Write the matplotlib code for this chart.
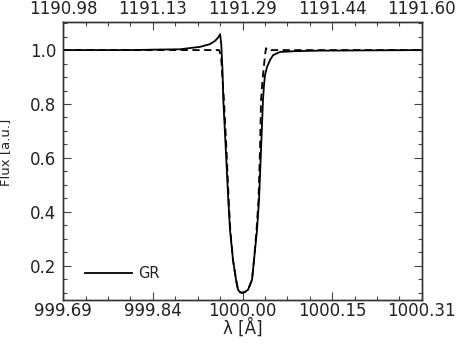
import matplotlib
matplotlib.use('Agg')
import matplotlib.pyplot as plt
from matplotlib.ticker import AutoMinorLocator

# ---------------- data ----------------
wl_gr = [999.6875, 999.804, 999.856, 999.891, 999.926, 999.943, 999.952, 999.957,
         999.961, 999.963, 999.9651, 999.9665, 999.9709, 999.9752, 999.9782, 999.9834,
         999.9887, 999.9922, 999.9956, 999.9991, 1000.0035, 1000.0096, 1000.0166,
         1000.0201, 1000.0253, 1000.0288, 1000.0323, 1000.0357, 1000.0375, 1000.0392,
         1000.0427, 1000.0480, 1000.0532, 1000.0654, 1000.0916, 1000.1352, 1000.3125]
fx_gr = [1.0, 1.0, 1.002, 1.003, 1.012, 1.022, 1.034, 1.045,
         1.059, 1.02, 0.926, 0.815, 0.63, 0.444, 0.333, 0.222,
         0.148, 0.111, 0.102, 0.100, 0.102, 0.111, 0.148,
         0.222, 0.333, 0.444, 0.63, 0.815, 0.87, 0.907,
         0.937, 0.963, 0.981, 0.993, 0.996, 0.998, 1.0]

wl_ref = [999.6875, 999.950, 999.959, 999.9625, 999.9651, 999.9677, 999.9721, 999.9759,
          999.9787, 999.9834, 999.9887, 999.9922, 999.9956, 999.9991, 1000.0035,
          1000.0096, 1000.0166, 1000.0201, 1000.0244, 1000.0279, 1000.0305, 1000.0323,
          1000.0349, 1000.0375, 1000.0392, 1000.0410, 1000.0436, 1000.3125]
fx_ref = [1.0, 1.0, 1.0, 0.98, 0.89, 0.815, 0.63, 0.444,
          0.333, 0.222, 0.148, 0.111, 0.102, 0.100, 0.102,
          0.111, 0.148, 0.222, 0.333, 0.444, 0.63, 0.815,
          0.89, 0.944, 0.981, 1.007, 1.0, 1.0]

xticks_bottom = ['999.69', '999.84', '1000.00', '1000.15', '1000.31']
xticks_top = ['1190.98', '1191.13', '1191.29', '1191.44', '1191.60']
yticks = [0.2, 0.4, 0.6, 0.8, 1.0]

# ---------------- plot ----------------
plt.rcParams['font.family'] = 'DejaVu Sans'
txt = '#222222'

fig = plt.figure(figsize=(4.57, 3.52), dpi=100)
ax = fig.add_axes([0.1385, 0.1477, 0.7843, 0.7889])

ax.plot(wl_gr, fx_gr, color='black', lw=1.3, label='GR')
ax.plot(wl_ref, fx_ref, color='black', lw=1.3, ls=(0, (4, 2.5)))

xmin, xmax = 999.6875, 1000.3125
ax.set_xlim(xmin, xmax)
ax.set_ylim(0.073, 1.103)

xpos = [xmin + i * (xmax - xmin) / 4 for i in range(5)]
ax.set_xticks(xpos)
ax.set_xticklabels(xticks_bottom)
ax.set_yticks(yticks)
ax.set_yticklabels(['%.1f' % v for v in yticks])
ax.xaxis.set_minor_locator(AutoMinorLocator(4))
ax.yaxis.set_minor_locator(AutoMinorLocator(4))
ax.tick_params(which='both', direction='in', right=True, colors='#444444',
               labelcolor=txt, labelsize=12)
ax.tick_params(axis='y', pad=5)
ax.tick_params(axis='x', pad=1.5)
ax.tick_params(which='major', length=6, width=0.8)
ax.tick_params(which='minor', length=3, width=0.8)

ax2 = ax.twiny()
ax2.set_xlim(xmin, xmax)
ax2.set_xticks(xpos)
ax2.set_xticklabels(xticks_top)
ax2.xaxis.set_minor_locator(AutoMinorLocator(4))
ax2.tick_params(which='both', direction='in', colors='#444444',
                labelcolor=txt, labelsize=12, pad=3)
ax2.tick_params(which='major', length=6, width=0.8)
ax2.tick_params(which='minor', length=3, width=0.8)

for a in (ax, ax2):
    for s in a.spines.values():
        s.set_linewidth(1.0)
        s.set_color('#333333')

ax.set_xlabel('λ [Å]', fontsize=12, color=txt, labelpad=-1)
ax.set_ylabel('Flux [a.u.]', fontsize=9.5, color=txt)
ax.yaxis.set_label_coords(-0.143, 0.53)

ax.legend(loc='lower left', bbox_to_anchor=(0.025, 0.02), frameon=False,
          handlelength=3.2, handletextpad=0.4, fontsize=10.5,
          labelcolor=txt)

fig.savefig('out.png', dpi=100)
